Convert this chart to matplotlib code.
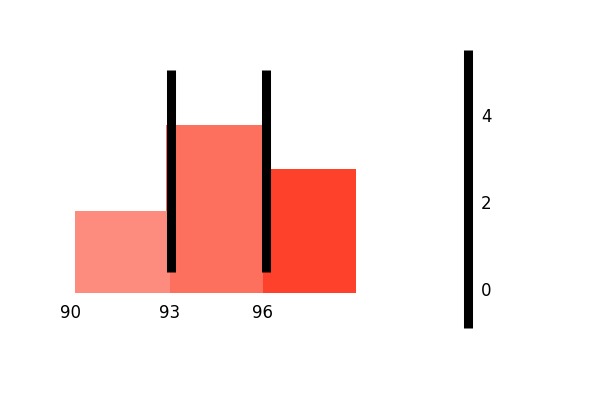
import matplotlib
matplotlib.use('Agg')
import matplotlib.pyplot as plt

# bin edges and counts
bin_lefts = [90, 93, 96]
bin_widths = [3, 3, 2.8]
counts = [1.95, 4, 2.95]
bar_colors = ['#fe8c7e', '#fe705e', '#fe412a']

# black markers at bin boundaries
marker_x = [93, 96]
marker_low = 0.5
marker_high = 5.3

x_ticks = [90, 93, 96]
right_ticks = [0, 2, 4]

W, H = 600, 400
fig = plt.figure(figsize=(W / 100, H / 100), dpi=100)
ax = fig.add_axes([74.5 / W, 72 / H, (468.5 - 74.5) / W, 278 / H])

# small overlap between first and second bar, first one drawn on top
shift = [0, -0.15, -0.1]
for i in [1, 0, 2]:
    ax.bar(bin_lefts[i] + shift[i], counts[i], width=bin_widths[i] - shift[i],
           align='edge', color=bar_colors[i], linewidth=0, zorder=2)

ax.vlines(marker_x, marker_low, marker_high, colors='black',
          linewidth=6.5, capstyle='butt', zorder=3)

ax.set_xlim(90, 90 + (468.5 - 74.5) / 32)
ax.set_ylim(-(328 - 293) / 42, (293 - 50) / 42)

for s in ['top', 'left', 'right']:
    ax.spines[s].set_visible(False)
ax.spines['bottom'].set_position(('data', 0))
ax.spines['bottom'].set_visible(False)
ax.set_yticks([])
ax.set_xticks(x_ticks)
ax.set_xticklabels([str(t) for t in x_ticks])
ax.tick_params(axis='x', length=0, pad=8, labelsize=12)
# nudge the labels slightly left, as in the reference
for lbl, dx in zip(ax.get_xticklabels(), [-4, -1, -4]):
    lbl.set_transform(lbl.get_transform() +
                      matplotlib.transforms.ScaledTranslation(dx / 100, 0, fig.dpi_scale_trans))

# right axis: thick black spine with labels
ax2 = ax.twinx()
ax2.set_ylim(-(328 - 289) / 43.5, (289 - 50) / 43.5)
for s in ['top', 'left', 'bottom']:
    ax2.spines[s].set_visible(False)
ax2.spines['right'].set_linewidth(6.5)
ax2.spines['right'].set_capstyle('butt')
ax2.set_yticks(right_ticks)
ax2.tick_params(axis='y', length=0, pad=9, labelsize=12)
ax2.patch.set_visible(False)

fig.savefig('out.png', dpi=100, facecolor='white')
